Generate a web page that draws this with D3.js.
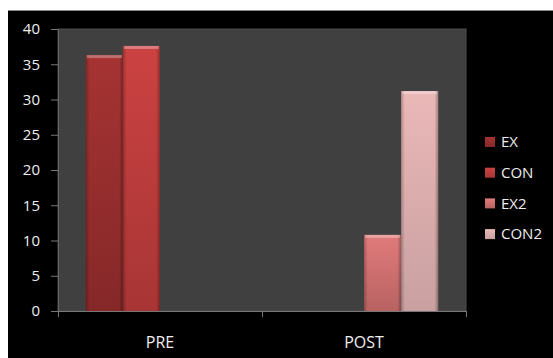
<!DOCTYPE html>
<html>
<head>
<meta charset="utf-8">
<script src="https://cdn.jsdelivr.net/npm/d3@7"></script>
<style>
  html, body { margin: 0; padding: 0; background: #fff; }
  svg { display: block; }
  text { font-family: "Open Sans", Lato, sans-serif; }
</style>
</head>
<body>
<div id="chart"></div>
<script>
// ---------------- data
const categories = ["PRE", "POST"]
const seriesNames = ["EX", "CON", "EX2", "CON2"]
const exValues = [36.3, null]
const conValues = [37.6, null]
const ex2Values = [null, 10.8]
const con2Values = [null, 31.2]
const yTicks = [0, 5, 10, 15, 20, 25, 30, 35, 40]

const seriesValues = [exValues, conValues, ex2Values, con2Values]

// colours: [top, bottom]
const seriesColors = {
    EX: ["#a63333", "#862828"],
    CON: ["#cc4242", "#a83535"],
    EX2: ["#e27b7b", "#b86262"],
    CON2: ["#ebb8b8", "#c9a0a0"]
}

//------------------------ dimensions
const dims = {
    width: 553,
    height: 358,
    plot: { left: 58, right: 466, top: 29, bottom: 311 }
}

const svg = d3.select("#chart")
    .append("svg")
    .attr("width", dims.width)
    .attr("height", dims.height)

// background frame
svg.append("rect")
    .attr("x", 0).attr("y", 0)
    .attr("width", dims.width).attr("height", dims.height)
    .attr("fill", "#fff")
svg.append("rect")
    .attr("x", 8).attr("y", 10)
    .attr("width", dims.width - 8).attr("height", dims.height - 10)
    .attr("fill", "#000")
svg.append("line")
    .attr("x1", 8).attr("x2", dims.width)
    .attr("y1", 10.5).attr("y2", 10.5)
    .attr("stroke", "#8a8a8a")

// plot area
svg.append("rect")
    .attr("x", dims.plot.left).attr("y", dims.plot.top)
    .attr("width", dims.plot.right - dims.plot.left)
    .attr("height", dims.plot.bottom - dims.plot.top)
    .attr("fill", "#404040")
    .attr("stroke", "#4c4c4c")

//------------------------ scales
const x0 = d3.scaleBand()
    .domain(categories)
    .range([dims.plot.left, dims.plot.right])

const x1 = d3.scaleBand()
    .domain(seriesNames)
    .range([0, x0.bandwidth()])
    .paddingOuter(0.75)

const y = d3.scaleLinear()
    .domain([0, 40])
    .range([dims.plot.bottom, dims.plot.top])

//------------------------ gradients
const defs = svg.append("defs")
seriesNames.forEach(name => {
    const g = defs.append("linearGradient")
        .attr("id", "grad-" + name)
        .attr("x1", 0).attr("y1", 0).attr("x2", 0).attr("y2", 1)
    g.append("stop").attr("offset", "0%").attr("stop-color", seriesColors[name][0])
    g.append("stop").attr("offset", "100%").attr("stop-color", seriesColors[name][1])
})
const side = defs.append("linearGradient")
    .attr("id", "side-shade")
    .attr("x1", 0).attr("y1", 0).attr("x2", 1).attr("y2", 0)
side.append("stop").attr("offset", "0%").attr("stop-color", "#000").attr("stop-opacity", 0.25)
side.append("stop").attr("offset", "10%").attr("stop-color", "#000").attr("stop-opacity", 0)
side.append("stop").attr("offset", "90%").attr("stop-color", "#000").attr("stop-opacity", 0)
side.append("stop").attr("offset", "100%").attr("stop-color", "#000").attr("stop-opacity", 0.3)

//------------------------ bars
const barData = []
categories.forEach((cat, i) => {
    seriesNames.forEach((name, j) => {
        const v = seriesValues[j][i]
        if (v != null) barData.push({ cat, name, value: v })
    })
})

const bars = svg.append("g").selectAll("g")
    .data(barData)
    .join("g")

bars.append("rect")
    .attr("x", d => x0(d.cat) + x1(d.name))
    .attr("y", d => y(d.value))
    .attr("width", x1.bandwidth())
    .attr("height", d => y(0) - y(d.value))
    .attr("fill", d => `url(#grad-${d.name})`)

bars.append("rect")
    .attr("x", d => x0(d.cat) + x1(d.name))
    .attr("y", d => y(d.value))
    .attr("width", x1.bandwidth())
    .attr("height", d => y(0) - y(d.value))
    .attr("fill", "url(#side-shade)")

// top highlight
bars.append("rect")
    .attr("x", d => x0(d.cat) + x1(d.name) + 1)
    .attr("y", d => y(d.value))
    .attr("width", x1.bandwidth() - 2)
    .attr("height", 3)
    .attr("fill", "#fff")
    .attr("opacity", 0.3)

//------------------------ axes
const yAxis = d3.axisLeft(y)
    .tickValues(yTicks)
    .tickSize(7)
    .tickPadding(11)

const yAxisGroup = svg.append("g")
    .attr("transform", `translate(${dims.plot.left},0)`)
    .call(yAxis)
yAxisGroup.select(".domain").attr("stroke", "#666")
yAxisGroup.selectAll(".tick line").attr("stroke", "#777")
yAxisGroup.selectAll("text")
    .attr("fill", "#eee")
    .style("font-size", "15px")

const xAxis = d3.axisBottom(x0)
    .tickSize(0)
    .tickPadding(26)

const xAxisGroup = svg.append("g")
    .attr("transform", `translate(0,${dims.plot.bottom})`)
    .call(xAxis)
xAxisGroup.select(".domain").attr("stroke", "#777")
xAxisGroup.selectAll("text")
    .attr("fill", "#eee")
    .style("font-size", "16px")

// category separator ticks
const sepTicks = [dims.plot.left, x0("POST"), dims.plot.right]
xAxisGroup.selectAll(".sep")
    .data(sepTicks)
    .join("line")
    .attr("x1", d => d + 0.5).attr("x2", d => d + 0.5)
    .attr("y1", 0).attr("y2", 6)
    .attr("stroke", "#777")

//------------------------ legend
const legend = svg.append("g")
    .attr("transform", "translate(485,142)")

const legendItems = legend.selectAll("g")
    .data(seriesNames)
    .join("g")
    .attr("transform", (d, i) => `translate(0,${i * 30.7})`)

legendItems.append("rect")
    .attr("x", 0).attr("y", -5)
    .attr("width", 10).attr("height", 10)
    .attr("fill", d => `url(#grad-${d})`)

legendItems.append("text")
    .attr("x", 16)
    .attr("y", 0)
    .attr("dy", "0.35em")
    .attr("fill", "#eee")
    .style("font-size", "15px")
    .text(d => d)
</script>
</body>
</html>
